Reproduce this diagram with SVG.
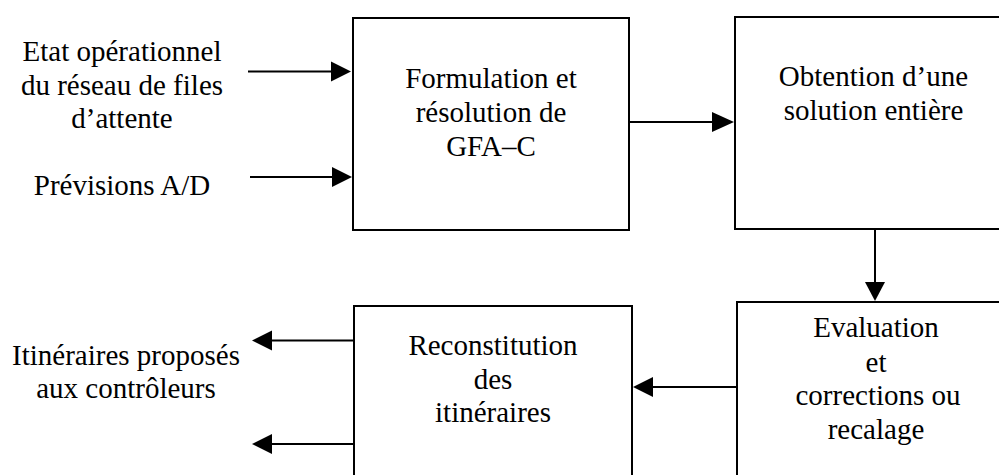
<svg xmlns="http://www.w3.org/2000/svg" width="999" height="475" viewBox="0 0 999 475">
<style>
.box{fill:#fff;stroke:#000;stroke-width:2}
.ln{stroke:#000;stroke-width:2;fill:none}
.ah{fill:#000}
</style>
<rect width="999" height="475" fill="#fff"/>
<g id="inputs">
<text x="122" y="61" font-family="Liberation Serif" font-size="29" text-anchor="middle">Etat opérationnel</text>
<text x="122" y="94.5" font-family="Liberation Serif" font-size="29" text-anchor="middle">du réseau de files</text>
<text x="122" y="128" font-family="Liberation Serif" font-size="29" text-anchor="middle">d’attente</text>
<text x="122" y="195" font-family="Liberation Serif" font-size="29" text-anchor="middle">Prévisions A/D</text>
</g>
<g id="outputs">
<text x="126" y="365" font-family="Liberation Serif" font-size="29" text-anchor="middle">Itinéraires proposés</text>
<text x="126" y="398" font-family="Liberation Serif" font-size="29" text-anchor="middle">aux contrôleurs</text>
</g>
<g id="n1">
<rect class="box" x="353" y="18" width="276" height="212"/>
<text x="491" y="87.5" font-family="Liberation Serif" font-size="29" text-anchor="middle">Formulation et</text>
<text x="491" y="121.5" font-family="Liberation Serif" font-size="29" text-anchor="middle">résolution de</text>
<text x="491" y="156" font-family="Liberation Serif" font-size="29" text-anchor="middle">GFA–C</text>
</g>
<g id="n2">
<rect class="box" x="735" y="17" width="280" height="212"/>
<text x="873.5" y="86" font-family="Liberation Serif" font-size="29" text-anchor="middle">Obtention d’une</text>
<text x="873.5" y="120" font-family="Liberation Serif" font-size="29" text-anchor="middle">solution entière</text>
</g>
<g id="n3">
<rect class="box" x="737" y="302" width="280" height="190"/>
<text x="876" y="337" font-family="Liberation Serif" font-size="29" text-anchor="middle">Evaluation</text>
<text x="876" y="371.5" font-family="Liberation Serif" font-size="29" text-anchor="middle">et</text>
<text x="878" y="405" font-family="Liberation Serif" font-size="29" text-anchor="middle">corrections ou</text>
<text x="876" y="438.5" font-family="Liberation Serif" font-size="29" text-anchor="middle">recalage</text>
</g>
<g id="n4">
<rect class="box" x="354" y="306" width="278" height="190"/>
<text x="493" y="355" font-family="Liberation Serif" font-size="29" text-anchor="middle">Reconstitution</text>
<text x="493" y="388.5" font-family="Liberation Serif" font-size="29" text-anchor="middle">des</text>
<text x="493" y="422" font-family="Liberation Serif" font-size="29" text-anchor="middle">itinéraires</text>
</g>
<g id="connectors">
<line class="ln" x1="248" y1="71.5" x2="332" y2="71.5"/>
<polygon class="ah" points="331,61.5 351,71.5 331,81.5"/>
<line class="ln" x1="250" y1="177" x2="333" y2="177"/>
<polygon class="ah" points="332,167 352,177 332,187"/>
<line class="ln" x1="629" y1="122" x2="714" y2="122"/>
<polygon class="ah" points="712,112 734,122 712,132"/>
<line class="ln" x1="875" y1="229" x2="875" y2="284"/>
<polygon class="ah" points="865,282 885,282 875,301"/>
<line class="ln" x1="737" y1="387" x2="651" y2="387"/>
<polygon class="ah" points="653,377 653,397 633,387"/>
<line class="ln" x1="354" y1="340.5" x2="270" y2="340.5"/>
<polygon class="ah" points="272,330.5 272,350.5 252,340.5"/>
<line class="ln" x1="354" y1="444" x2="270" y2="444"/>
<polygon class="ah" points="272,434 272,454 252,444"/>
</g>
</svg>
